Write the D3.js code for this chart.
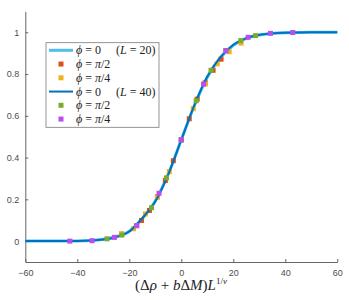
<!DOCTYPE html>
<html>
<head>
<meta charset="utf-8">
<script src="https://cdn.jsdelivr.net/npm/d3@7"></script>
<style>
  body { margin: 0; background: #fff; }
  .axis text { font-family: "Liberation Sans", Arial, sans-serif; font-size: 9px; fill: #4d4d4d; }
  .axis line, .axis path { stroke: #666; }
  .math { font-family: "Liberation Serif", "DejaVu Serif", serif; }
</style>
</head>
<body>
<div id="chart"></div>
<script>
// scaling curves (L = 20 and L = 40)
var lineX = [-60, -50, -40, -30, -25, -20, -15, -10, -5, 0, 5, 10, 15, 20, 25, 30, 40, 50, 60];
var lineY20 = [0, 0, 0.001, 0.009, 0.021, 0.047, 0.108, 0.192, 0.322, 0.485, 0.648, 0.785, 0.878, 0.938, 0.971, 0.987, 0.998, 1, 1];
var lineY40 = [0, 0, 0.001, 0.008, 0.020, 0.046, 0.110, 0.190, 0.320, 0.485, 0.650, 0.788, 0.880, 0.940, 0.972, 0.988, 0.998, 1, 1];

// L = 20 points
var x20a = [-15.3, -12.24, -9.18, -6.12, -3.06, 0, 3.06, 6.12, 9.18, 12.24, 15.3];
var y20a = [0.099, 0.147, 0.212, 0.290, 0.385, 0.485, 0.586, 0.680, 0.758, 0.818, 0.871];
var x20b = [-23, -18.4, -13.8, -9.2, -4.6, 0, 4.6, 9.2, 13.8, 18.4, 23];
var y20b = [0.036, 0.059, 0.130, 0.212, 0.333, 0.485, 0.634, 0.752, 0.849, 0.907, 0.948];

// L = 40 points
var x40a = [-28.57, -22.86, -17.14, -11.43, -5.71, 0, 5.71, 11.43, 17.14, 22.86, 28.57];
var y40a = [0.011, 0.029, 0.074, 0.160, 0.303, 0.485, 0.672, 0.818, 0.912, 0.960, 0.984];
var x40b = [-42.86, -34.29, -25.71, -17.14, -8.57, 0, 8.57, 17.14, 25.71, 34.29, 42.86];
var y40b = [0.000, 0.002, 0.018, 0.074, 0.229, 0.485, 0.752, 0.912, 0.976, 0.995, 0.999];

var xTicks = [-60, -40, -20, 0, 20, 40, 60];
var yTicks = [0, 0.2, 0.4, 0.6, 0.8, 1];

var W = 349, H = 300;
var svg = d3.select('#chart').append('svg').attr('width', W).attr('height', H);

var x = d3.scaleLinear().domain([-60, 60]).range([25.3, 337.3]);
var y = d3.scaleLinear().domain([-0.1, 1.1]).range([262, 11.4]);

// axes
svg.append('g')
  .attr('class', 'axis')
  .attr('transform', 'translate(0,' + y(-0.1) + ')')
  .call(d3.axisBottom(x).tickValues(xTicks).tickSizeInner(-3).tickSizeOuter(0).tickPadding(8));

svg.append('g')
  .attr('class', 'axis')
  .attr('transform', 'translate(' + x(-60) + ',0)')
  .call(d3.axisLeft(y).tickValues(yTicks).tickSizeInner(-3).tickSizeOuter(0).tickPadding(6)
    .tickFormat(function(d) { return d3.format('')(d); }));

function lineOf(xs, ys) {
  return d3.line().curve(d3.curveMonotoneX)
    .x(function(d, i) { return x(xs[i]); })
    .y(function(d, i) { return y(ys[i]); })(xs);
}

function squares(xs, ys, color) {
  svg.append('g').selectAll('rect').data(xs).enter().append('rect')
    .attr('x', function(d) { return x(d) - 2.5; })
    .attr('y', function(d, i) { return y(ys[i]) - 2.5; })
    .attr('width', 5).attr('height', 5)
    .attr('fill', color);
}

var cLight = '#4DBEEE', cDark = '#0072BD';
var cOrange = '#D95319', cYellow = '#EDB120', cGreen = '#77AC30', cPurple = '#B84DF5';

svg.append('path').attr('d', lineOf(lineX, lineY20))
  .attr('fill', 'none').attr('stroke', cLight).attr('stroke-width', 3);
squares(x20a, y20a, cOrange);
squares(x20b, y20b, cYellow);
svg.append('path').attr('d', lineOf(lineX, lineY40))
  .attr('fill', 'none').attr('stroke', cDark).attr('stroke-width', 2);
squares(x40a, y40a, cGreen);
squares(x40b, y40b, cPurple);

// legend
var lg = svg.append('g');
lg.append('rect').attr('x', 46).attr('y', 42.7).attr('width', 113).attr('height', 84.6)
  .attr('fill', '#fff').attr('stroke', '#7a7a7a').attr('stroke-width', 0.8);

var sp = '\u00a0';
var entries = [
  {type: 'line', color: cLight, w: 3, text: [['ϕ', 1], [sp + '=' + sp + '0' + sp + sp + sp + sp + sp + '(', 0], ['L', 1], [sp + '=' + sp + '20)', 0]]},
  {type: 'rect', color: cOrange, text: [['ϕ', 1], [sp + '=' + sp, 0], ['π', 1], ['/2', 0]]},
  {type: 'rect', color: cYellow, text: [['ϕ', 1], [sp + '=' + sp, 0], ['π', 1], ['/4', 0]]},
  {type: 'line', color: cDark, w: 2, text: [['ϕ', 1], [sp + '=' + sp + '0' + sp + sp + sp + sp + sp + '(', 0], ['L', 1], [sp + '=' + sp + '40)', 0]]},
  {type: 'rect', color: cGreen, text: [['ϕ', 1], [sp + '=' + sp, 0], ['π', 1], ['/2', 0]]},
  {type: 'rect', color: cPurple, text: [['ϕ', 1], [sp + '=' + sp, 0], ['π', 1], ['/4', 0]]}
];
entries.forEach(function(e, i) {
  var yy = 50.3 + i * 13.75;
  if (e.type === 'line') {
    lg.append('line').attr('x1', 49).attr('x2', 73).attr('y1', yy).attr('y2', yy)
      .attr('stroke', e.color).attr('stroke-width', e.w);
  } else {
    lg.append('rect').attr('x', 58.5).attr('y', yy - 2.5).attr('width', 5).attr('height', 5)
      .attr('fill', e.color);
  }
  var t = lg.append('text').attr('class', 'math').attr('x', 76).attr('y', yy + 4)
    .attr('font-size', 12).attr('fill', '#222');
  e.text.forEach(function(s) {
    t.append('tspan').text(s[0]).attr('font-style', s[1] ? 'italic' : 'normal');
  });
});

// x label
var xl = svg.append('text').attr('class', 'math').attr('x', 181).attr('y', 290)
  .attr('text-anchor', 'middle').attr('font-size', 15).attr('fill', '#222');
xl.append('tspan').text('(Δ');
xl.append('tspan').text('ρ').attr('font-style', 'italic');
xl.append('tspan').text(' + ');
xl.append('tspan').text('b').attr('font-style', 'italic');
xl.append('tspan').text('Δ');
xl.append('tspan').text('M').attr('font-style', 'italic');
xl.append('tspan').text(')');
xl.append('tspan').text('L').attr('font-style', 'italic');
xl.append('tspan').text('1/').attr('font-size', 9).attr('dy', -6);
xl.append('tspan').text('ν').attr('font-size', 9).attr('font-style', 'italic');
</script>
</body>
</html>
